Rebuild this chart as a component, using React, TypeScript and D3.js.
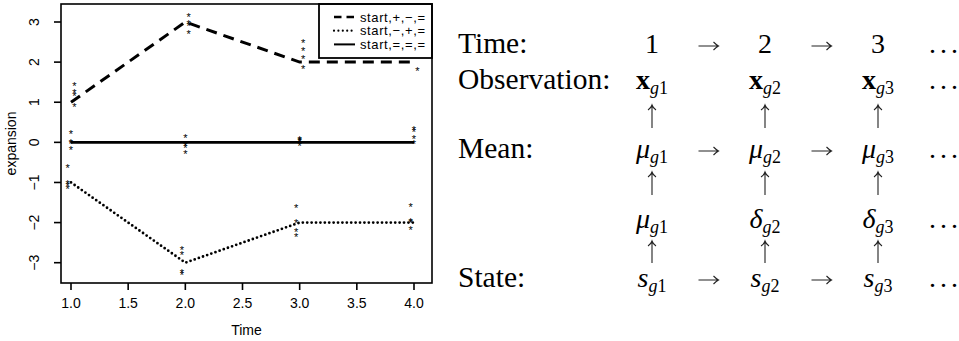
import React from "react"
import * as d3 from "d3"

// Left panel data
const times = [1, 2, 3, 4]
const seriesLabels = ["start,+,\u2212,=", "start,\u2212,+,=", "start,=,=,="]
const meansUpDown = [1, 3, 2, 2]
const meansDownUp = [-1, -3, -2, -2]
const meansFlat = [0, 0, 0, 0]
const obsUpDown = [
  [1.45, 1.27, 1.2, 0.93],
  [3.17, 3.0, 2.95, 2.76],
  [2.52, 2.33, 2.13, 1.89],
  [2.35, 2.27, 2.2, 1.84]
]
const obsDownUp = [
  [-0.6, -0.98, -1.04, -1.12],
  [-2.64, -2.77, -3.2, -3.25],
  [-1.58, -1.96, -2.19, -2.3],
  [-1.56, -1.93, -1.97, -2.13]
]
const obsFlat = [
  [0.26, 0.04, 0.0, -0.15],
  [0.17, -0.04, -0.08, -0.24],
  [0.12, 0.09, 0.07, -0.04],
  [0.35, 0.31, 0.14, 0.02]
]
const timeOffsets = [0.03, -0.03, 0]
const xTicks = [1, 1.5, 2, 2.5, 3, 3.5, 4]
const yTicks = [-3, -2, -1, 0, 1, 2, 3]

// Right panel data
const rowLabels = ["Time:", "Observation:", "Mean:", "", "State:"]
const timeSteps = ["1", "2", "3"]
const obsSymbols = ["x", "x", "x"]
const meanSymbols = ["\u03bc", "\u03bc", "\u03bc"]
const driverSymbols = ["\u03bc", "\u03b4", "\u03b4"]
const stateSymbols = ["s", "s", "s"]

const sans = "'Liberation Sans', Arial, sans-serif"
const serif = "'Liberation Serif', 'Times New Roman', serif"

const App = () => {
  // Dimensions
  const totalW = 959
  const totalH = 341
  const box = { left: 61, right: 432, top: 4, bottom: 283 }

  // Scales
  const xScale = d3.scaleLinear().domain([1, 4]).range([71, 414])
  const yScale = d3.scaleLinear().domain([-3, 3]).range([262.7, 22])

  const series = [
    { means: meansUpDown, obs: obsUpDown, dash: "11,7", cap: "butt", w: 3, legendDash: "7.5,5" },
    { means: meansDownUp, obs: obsDownUp, dash: "0,4.4", cap: "round", w: 2.8, legendDash: "0,4.4" },
    { means: meansFlat, obs: obsFlat, dash: "none", cap: "butt", w: 2.6, legendDash: "none" }
  ]

  const line = d3
    .line<number>()
    .x((d, i) => xScale(times[i]))
    .y((d) => yScale(d))

  // Right panel layout
  const colX = d3.scalePoint<string>().domain(timeSteps).range([652, 878])
  const rowY = [53, 89, 158, 228, 287]
  const upArrows = [
    [105, 128],
    [172, 195],
    [241, 263]
  ]
  const arrowRows = [0, 2, 4]

  const mathEntry = (sym: string, i: number, bold: boolean) => (
    <>
      <tspan fontWeight={bold ? "bold" : "normal"} fontStyle={bold ? "normal" : "italic"}>
        {sym}
      </tspan>
      <tspan fontSize={18} fontStyle="italic" dy={5}>
        g
      </tspan>
      <tspan fontSize={18}>{timeSteps[i]}</tspan>
    </>
  )

  const rows = [
    timeSteps.map((t) => <tspan key={t}>{t}</tspan>),
    obsSymbols.map((s, i) => mathEntry(s, i, true)),
    meanSymbols.map((s, i) => mathEntry(s, i, false)),
    driverSymbols.map((s, i) => mathEntry(s, i, false)),
    stateSymbols.map((s, i) => mathEntry(s, i, false))
  ]

  return (
    <svg
      width={totalW}
      height={totalH}
      style={{ position: "absolute", left: 0, top: 0, background: "white" }}
    >
      {/* Mean lines */}
      {series.map((s, k) => (
        <path
          key={`line-${k}`}
          d={line(s.means) || ""}
          fill="none"
          stroke="black"
          strokeWidth={s.w}
          strokeDasharray={s.dash}
          strokeLinecap={s.cap as any}
        />
      ))}

      {/* Observations */}
      {series.map((s, k) =>
        s.obs.map((vals, ti) =>
          vals.map((v, j) => (
            <text
              key={`star-${k}-${ti}-${j}`}
              x={xScale(times[ti] + timeOffsets[k])}
              y={yScale(v) + 6}
              fontFamily={sans}
              fontSize={11}
              textAnchor="middle"
              fill="black"
            >
              *
            </text>
          ))
        )
      )}

      {/* Legend */}
      <rect x={319} y={box.top} width={box.right - 319} height={54} fill="white" stroke="black" strokeWidth={1.8} />
      {series.map((s, k) => (
        <g key={`leg-${k}`}>
          <line
            x1={334}
            x2={355}
            y1={17 + k * 13.7}
            y2={17 + k * 13.7}
            stroke="black"
            strokeWidth={s.w - 0.6}
            strokeDasharray={s.legendDash}
            strokeLinecap={s.cap as any}
          />
          <text x={360} y={21.5 + k * 13.7} fontFamily={sans} fontSize={13} textLength={65}>
            {seriesLabels[k]}
          </text>
        </g>
      ))}

      {/* Plot box */}
      <rect
        x={box.left}
        y={box.top}
        width={box.right - box.left}
        height={box.bottom - box.top}
        fill="none"
        stroke="black"
        strokeWidth={1.6}
      />

      {/* X axis */}
      {xTicks.map((t) => (
        <g key={`xt-${t}`}>
          <line x1={xScale(t)} x2={xScale(t)} y1={box.bottom} y2={box.bottom + 7} stroke="black" strokeWidth={1.6} />
          <text x={xScale(t)} y={308} textAnchor="middle" fontFamily={sans} fontSize={14}>
            {d3.format(".1f")(t)}
          </text>
        </g>
      ))}
      <text x={(box.left + box.right) / 2} y={335} textAnchor="middle" fontFamily={sans} fontSize={14}>
        Time
      </text>

      {/* Y axis */}
      {yTicks.map((t) => (
        <g key={`yt-${t}`}>
          <line x1={box.left - 7} x2={box.left} y1={yScale(t)} y2={yScale(t)} stroke="black" strokeWidth={1.6} />
          <text
            transform={`translate(39, ${yScale(t)}) rotate(-90)`}
            textAnchor="middle"
            fontFamily={sans}
            fontSize={14}
          >
            {t < 0 ? `\u2212${-t}` : t}
          </text>
        </g>
      ))}
      <text
        transform={`translate(16, ${(box.top + box.bottom) / 2}) rotate(-90)`}
        textAnchor="middle"
        fontFamily={sans}
        fontSize={14}
      >
        expansion
      </text>

      {/* Right panel: model scheme */}
      <g fontFamily={serif} fontSize={28} fill="black">
        {rowLabels.map((l, r) => (
          <text key={`rl-${r}`} x={458} y={rowY[r]} fontSize={29.5}>
            {l}
          </text>
        ))}
        {rows.map((row, r) =>
          row.map((cell, i) => (
            <text key={`c-${r}-${i}`} x={colX(timeSteps[i])} y={rowY[r]} textAnchor="middle">
              {cell}
            </text>
          ))
        )}
        {rowY.map((y, r) => (
          <text key={`dots-${r}`} x={929} y={y}>
            .<tspan dx={4}>.</tspan>
            <tspan dx={4}>.</tspan>
          </text>
        ))}
      </g>

      {/* Right arrows */}
      {arrowRows.map((r) =>
        timeSteps.slice(0, -1).map((t, i) => {
          const cx = ((colX(t) as number) + (colX(timeSteps[i + 1]) as number)) / 2
          const y = rowY[r] - 7
          return (
            <path
              key={`ra-${r}-${i}`}
              d={`M${cx - 10},${y}H${cx + 10}M${cx + 5},${y - 4}Q${cx + 8},${y - 1} ${cx + 10},${y}Q${cx + 8},${y + 1} ${cx + 5},${y + 4}`}
              fill="none"
              stroke="#222"
              strokeWidth={1.1}
            />
          )
        })
      )}

      {/* Up arrows */}
      {upArrows.map(([top, bottom], a) =>
        timeSteps.map((t) => {
          const x = colX(t) as number
          return (
            <path
              key={`ua-${a}-${t}`}
              d={`M${x},${bottom}V${top}M${x - 4},${top + 5}Q${x - 1},${top + 3} ${x},${top}Q${x + 1},${top + 3} ${x + 4},${top + 5}`}
              fill="none"
              stroke="#222"
              strokeWidth={1.1}
            />
          )
        })
      )}
    </svg>
  )
}

export default App
